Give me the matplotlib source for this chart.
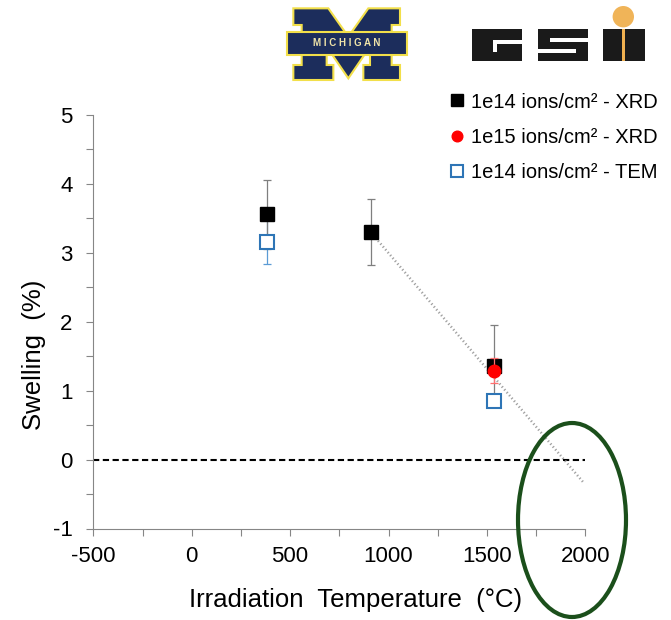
import matplotlib
matplotlib.use("Agg")
import matplotlib.pyplot as plt
from matplotlib.patches import Ellipse, Polygon, Rectangle
from matplotlib.ticker import MultipleLocator

plt.rcParams['font.family'] = ['Liberation Sans', 'DejaVu Sans']
plt.rcParams['axes.unicode_minus'] = False

# --- donnees ---
temp_xrd14 = [385, 910, 1535]
swell_xrd14 = [3.56, 3.30, 1.36]
err_xrd14 = [0.50, 0.48, 0.59]

temp_xrd15 = [1535]
swell_xrd15 = [1.29]
err_xrd15 = [0.18]

temp_tem14 = [385, 1535]
swell_tem14 = [3.16, 0.85]
err_tem14 = [0.32, 0.0]

tendance_x = [910, 1990]
tendance_y = [3.30, -0.33]

labels = ["1e14 ions/cm² - XRD", "1e15 ions/cm² - XRD", "1e14 ions/cm² - TEM"]

W, H = 671, 620
fig = plt.figure(figsize=(W / 100, H / 100), dpi=100)
ax = fig.add_axes([93.3 / W, 1 - 528.5 / H, 492 / W, 413.5 / H])

gris = '#868686'

# barres d'erreur
ax.errorbar(temp_tem14, swell_tem14, yerr=err_tem14, fmt='none', ecolor='#5b9bd5',
            elinewidth=0.9, capsize=3, capthick=0.9, zorder=2)
ax.errorbar(temp_xrd14, swell_xrd14, yerr=err_xrd14, fmt='none', ecolor='#7f7f7f',
            elinewidth=0.9, capsize=3, capthick=0.9, zorder=2)
ax.errorbar(temp_xrd15, swell_xrd15, yerr=err_xrd15, fmt='none', ecolor='#ff6f6f',
            elinewidth=0.9, capsize=3, capthick=0.9, zorder=5)

# ligne zero et tendance
ax.plot([-500, 2000], [0, 0], color='black', lw=1.5, linestyle=(0, (3, 1.7)), zorder=1)
ax.plot(tendance_x, tendance_y, color='#a0a0a0', lw=1.8, linestyle=(0, (0.5, 1)), zorder=1)

# points
h1, = ax.plot(temp_xrd14, swell_xrd14, 's', color='black', ms=10, zorder=4, label=labels[0])
h2, = ax.plot(temp_xrd15, swell_xrd15, 'o', color='#ff0000', ms=9, zorder=6, label=labels[1])
h3, = ax.plot(temp_tem14, swell_tem14, 's', mfc='white', mec='#2e75b6', mew=1.5, ms=9.5,
              zorder=3, label=labels[2])

ax.set_xlim(-500, 2000)
ax.set_ylim(-1, 5)
ax.xaxis.set_major_locator(MultipleLocator(500))
ax.xaxis.set_minor_locator(MultipleLocator(250))
ax.yaxis.set_major_locator(MultipleLocator(1))
ax.yaxis.set_minor_locator(MultipleLocator(0.5))

for s in ['top', 'right']:
    ax.spines[s].set_visible(False)
for s in ['left', 'bottom']:
    ax.spines[s].set_color(gris)
    ax.spines[s].set_linewidth(0.8)

ax.tick_params(which='both', direction='out', length=5, width=0.8, color=gris,
               labelsize=16, pad=7.5)
ax.tick_params(axis='y', which='both', pad=10)

ax.set_xlabel("Irradiation  Temperature  (°C)", fontsize=18.5)
ax.set_ylabel("Swelling  (%)", fontsize=18.5)
ax.xaxis.set_label_coords(0.533, -0.145)
ax.yaxis.set_label_coords(-0.097, 0.42)

ax.legend(handles=[h1, h2, h3], loc='upper left', bbox_to_anchor=(448.7 / W, 1 - 92.5 / H),
          bbox_transform=fig.transFigure, frameon=False, fontsize=14.5, handlelength=0.8,
          handletextpad=0.3, borderpad=0, borderaxespad=0, labelspacing=0.8,
          markerscale=0.85)

# ellipse verte
fig.add_artist(Ellipse((572 / W, 1 - 520 / H), 108 / W, 194 / H, fill=False,
                       edgecolor='#1b4f1b', lw=3, transform=fig.transFigure))


def px(x, y):
    return (x / W, 1 - y / H)


# logo Michigan (approximation)
m_pts = [(100, 25), (205, 25), (265, 110), (325, 25), (420, 25), (420, 75), (395, 75),
         (395, 195), (420, 195), (420, 240), (310, 240), (310, 195), (330, 195),
         (330, 140), (265, 235), (200, 140), (200, 195), (220, 195), (220, 240),
         (100, 240), (100, 195), (125, 195), (125, 75), (100, 75)]
m_pts = [px(x / 3 + 260, y / 3) for x, y in m_pts]
fig.add_artist(Polygon(m_pts, closed=True, facecolor='#1c2d5c', edgecolor='#f2df4a',
                       lw=1.5, transform=fig.transFigure))
x0, y0 = px(286.7, 55)
fig.add_artist(Rectangle((x0, y0), 120 / W, 23.3 / H, facecolor='#1c2d5c',
                         edgecolor='#f2df4a', lw=1.5, transform=fig.transFigure))
fig.text(346.7 / W, 1 - 43.5 / H, "M I C H I G A N", color='#efe3a8', fontsize=7,
         fontweight='bold', ha='center', va='center')

# logo GSI (approximation)
for (xa, xb) in [(471.7, 521.7), (538, 588), (603, 645)]:
    xa_f, ya_f = px(xa, 61)
    fig.add_artist(Rectangle((xa_f, ya_f), (xb - xa) / W, 31.7 / H, facecolor='#1a1a1a',
                             edgecolor='none', transform=fig.transFigure))
blancs = [(493, 40, 521.7, 44), (493, 40, 497, 52), (550, 38, 588, 41.5), (538, 49, 576, 52.5)]
for xa, ya, xb, yb in blancs:
    xa_f, yb_f = px(xa, yb)
    fig.add_artist(Rectangle((xa_f, yb_f), (xb - xa) / W, (yb - ya) / H, facecolor='white',
                             edgecolor='none', transform=fig.transFigure))
xa_f, yb_f = px(622, 61)
fig.add_artist(Rectangle((xa_f, yb_f), 3 / W, 31.7 / H, facecolor='#f0b050',
                         edgecolor='none', transform=fig.transFigure))
fig.add_artist(Ellipse(px(623.3, 16.7), 21.4 / W, 21.4 / H, facecolor='#f0b458',
                       edgecolor='none', transform=fig.transFigure))

fig.savefig("out.png", dpi=100)
